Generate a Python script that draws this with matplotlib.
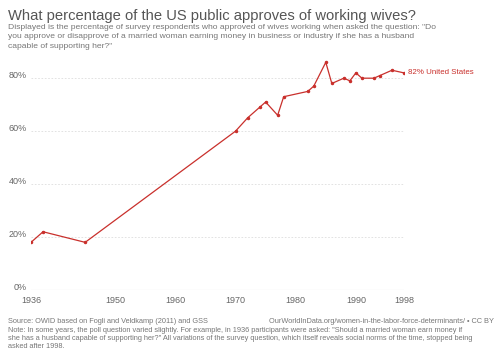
import matplotlib
matplotlib.use('Agg')
import matplotlib.pyplot as plt

plt.rcParams['font.family'] = ['Liberation Sans', 'DejaVu Sans']

years = [1936, 1938, 1945, 1970, 1972, 1974, 1975, 1977, 1978, 1982, 1983,
         1985, 1986, 1988, 1989, 1990, 1991, 1993, 1994, 1996, 1998]
approve = [18, 22, 18, 60, 65, 69, 71, 66, 73, 75, 77,
           86, 78, 80, 79, 82, 80, 80, 81, 83, 82]
xticks = [1936, 1950, 1960, 1970, 1980, 1990, 1998]
yticks = [0, 20, 40, 60, 80]

red = '#c9302c'
W, H = 500, 353

fig = plt.figure(figsize=(5, 3.53), dpi=100)
ax = fig.add_axes([31 / W, 1 - 290 / H, (404 - 31) / W, (290 - 57) / H])

ax.plot(years, approve, color=red, lw=0.9, marker='o', ms=1.5, mec=red, mfc=red, zorder=3)
ax.set_xlim(1936, 1998)
ax.set_ylim(0, 88)

for v in yticks[1:]:
    ax.axhline(v, color='#dddddd', lw=0.6, ls=(0, (2, 2)), zorder=1)
ax.axhline(0, color='#cccccc', lw=0.8, zorder=2)

for s in ax.spines.values():
    s.set_visible(False)
ax.set_xticks(xticks)
ax.set_yticks(yticks)
ax.set_yticklabels([f'{v}%' for v in yticks])
ax.tick_params(axis='both', length=0, labelsize=6.5, labelcolor='#666666')
ax.tick_params(axis='x', pad=4)
ax.tick_params(axis='y', pad=3)
for lab in ax.get_yticklabels():
    lab.set_verticalalignment('baseline')

ax.annotate(f'{approve[-1]}% United States', xy=(years[-1], approve[-1]),
            xytext=(3, 0), textcoords='offset points', va='center', ha='left',
            fontsize=5.7, color=red)

fig.text(8 / W, 1 - 16 / H, 'What percentage of the US public approves of working wives?',
         fontsize=10.6, color='#555555', va='center', ha='left')
fig.text(8 / W, 1 - 24 / H,
         'Displayed is the percentage of survey respondents who approved of wives working when asked the question: "Do\n'
         'you approve or disapprove of a married woman earning money in business or industry if she has a husband\n'
         'capable of supporting her?"',
         fontsize=6.1, color='#777777', va='top', ha='left', linespacing=1.45)

fig.text(8 / W, 1 - 318 / H,
         'Source: OWID based on Fogli and Veldkamp (2011) and GSS',
         fontsize=5.3, color='#777777', va='top', ha='left')
fig.text(494 / W, 1 - 318 / H,
         'OurWorldInData.org/women-in-the-labor-force-determinants/ \u2022 CC BY',
         fontsize=5.3, color='#777777', va='top', ha='right')
fig.text(8 / W, 1 - 326.5 / H,
         'Note: In some years, the poll question varied slightly. For example, in 1936 participants were asked: "Should a married woman earn money if\n'
         'she has a husband capable of supporting her?" All variations of the survey question, which itself reveals social norms of the time, stopped being\n'
         'asked after 1998.',
         fontsize=5.3, color='#777777', va='top', ha='left', linespacing=1.3)

fig.savefig('out.png', dpi=100)
